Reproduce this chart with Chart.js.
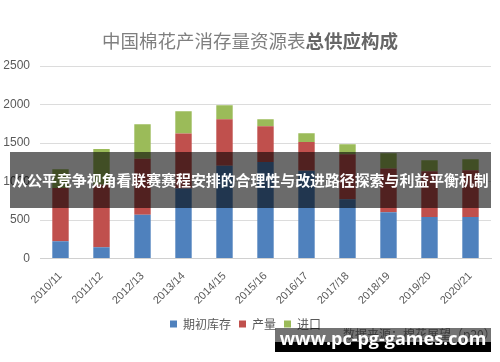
<!DOCTYPE html>
<html>
<head>
<meta charset="utf-8">
<script src="https://cdn.jsdelivr.net/npm/chart.js@4"></script>
<style>
  body { margin: 0; background: #fff; }
  #wrap { position: relative; width: 500px; height: 362px; overflow: hidden; font-family: "Noto Sans CJK SC", sans-serif; }
  #title { position: absolute; left: 0; top: 27px; width: 500px; text-align: center; font-size: 18.5px; line-height: 26px; color: #7f7f7f; }
  #title b { color: #666; }
  #banner { position: absolute; left: 10px; top: 152px; width: 481px; height: 56px; background: rgba(0,0,0,0.58);
    color: #fff; font-weight: bold; font-size: 14.9px; line-height: 56px; text-align: center; white-space: nowrap; }
  #src { position: absolute; left: 343px; top: 325px; font-size: 12px; color: #7f7f7f; white-space: nowrap; }
  #wm { position: absolute; left: 275px; top: 328px; width: 216px; height: 24px;
    background: linear-gradient(to bottom, rgba(0,0,0,0.55) 0, rgba(0,0,0,0.55) 14px, #000 14px, #000 100%); }
  #wm span { position: absolute; left: 0; width: 216px; top: 0; text-align: center; color: #fff; font-weight: bold;
    font-family: "Open Sans", "DejaVu Sans", sans-serif; font-size: 18px; line-height: 20px; }
</style>
</head>
<body>
<div id="wrap">
  <canvas id="c" width="500" height="362"></canvas>
  <div id="title">中国棉花产消存量资源表<b>总供应构成</b></div>
  <div id="banner">从公平竞争视角看联赛赛程安排的合理性与改进路径探索与利益平衡机制</div>
  <div id="src">数据来源：棉花展望（p20）</div>
  <div id="wm"><span>www.pc-pg-games.com</span></div>
</div>
<script>
// seasons and supply parts (10k tons)
const seasons = ['2010/11', '2011/12', '2012/13', '2013/14', '2014/15', '2015/16',
                 '2016/17', '2017/18', '2018/19', '2019/20', '2020/21'];
const beginStock = [225, 147, 570, 911, 1205, 1255, 1140, 770, 600, 538, 538];
const production = [690, 810, 725, 712, 605, 464, 374, 584, 568, 595, 608];
const imports = [244, 464, 450, 291, 182, 91, 114, 130, 199, 143, 143];
const yTicks = [0, 500, 1000, 1500, 2000, 2500];

const ctx = document.getElementById('c').getContext('2d');
new Chart(ctx, {
  type: 'bar',
  data: {
    labels: seasons,
    datasets: [
      { label: '期初库存', data: beginStock, backgroundColor: '#4f81bd' },
      { label: '产量', data: production, backgroundColor: '#c0504d' },
      { label: '进口', data: imports, backgroundColor: '#9bbb59' }
    ]
  },
  options: {
    responsive: false,
    devicePixelRatio: 1,
    animation: false,
    layout: { padding: { left: 0, right: 9, top: 66, bottom: 22 } },
    datasets: { bar: { categoryPercentage: 1, barPercentage: 0.4 } },
    plugins: {
      title: { display: false },
      tooltip: { enabled: false },
      legend: {
        position: 'bottom',
        labels: {
          boxWidth: 7, boxHeight: 7, padding: 8,
          color: '#595959',
          font: { family: '"Noto Sans CJK SC", sans-serif', size: 12 }
        }
      }
    },
    scales: {
      x: {
        stacked: true,
        grid: { display: false },
        border: { color: '#d0d0d0' },
        ticks: {
          minRotation: 45, maxRotation: 45,
          color: '#595959',
          font: { family: '"Liberation Sans", sans-serif', size: 11 }
        }
      },
      y: {
        stacked: true,
        min: 0, max: 2500,
        afterFit: s => { s.width = 40; },
        afterBuildTicks: s => { s.ticks = yTicks.map(v => ({ value: v })); },
        grid: { color: '#dcdcdc', drawTicks: false },
        border: { display: false },
        ticks: {
          padding: 10,
          color: '#595959',
          font: { family: '"Liberation Sans", sans-serif', size: 12 },
          callback: v => String(v)
        }
      }
    }
  }
});
</script>
</body>
</html>
